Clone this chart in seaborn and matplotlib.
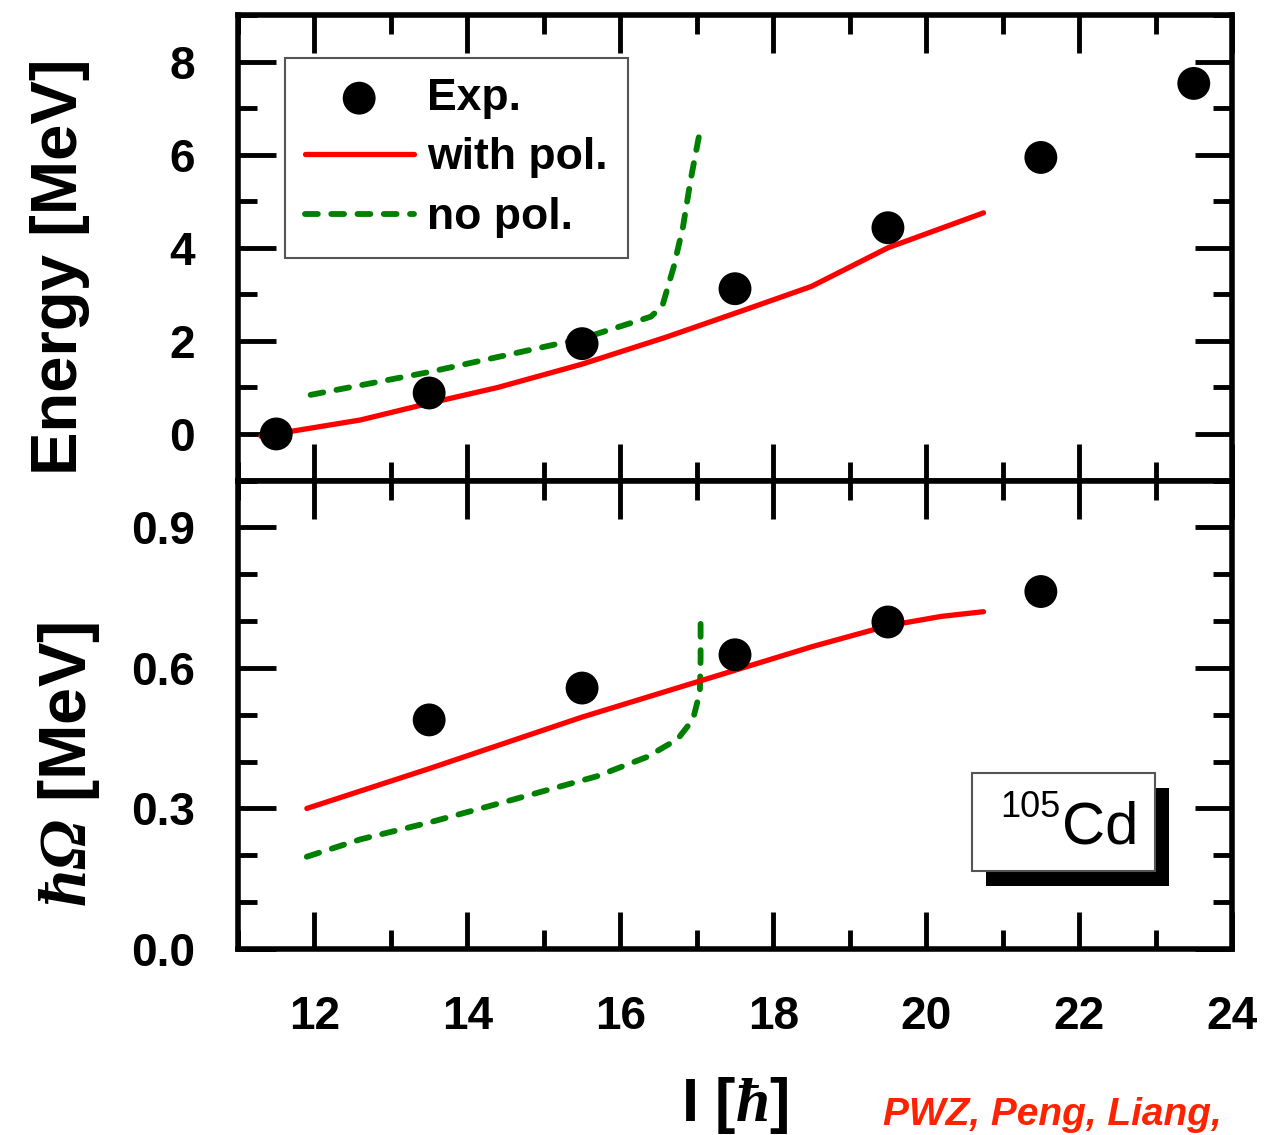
import matplotlib
matplotlib.use("Agg")
import matplotlib.pyplot as plt
import seaborn as sns
import pandas as pd
from matplotlib.ticker import MultipleLocator, FormatStrFormatter
from matplotlib.patches import Rectangle

# Experimental band: spin I, excitation energy, rotational frequency
spin_exp = [11.5, 13.5, 15.5, 17.5, 19.5, 21.5, 23.5]
energy_exp = [0.0, 0.88, 1.94, 3.12, 4.43, 5.94, 7.53]
spin_exp_omega = [13.5, 15.5, 17.5, 19.5, 21.5]
omega_exp = [0.489, 0.557, 0.628, 0.698, 0.763]

# Calculation with polarization
spin_pol_e = [11.3, 12.6, 13.5, 14.4, 15.5, 16.6, 17.6, 18.5, 19.5, 20.75]
energy_pol = [-0.05, 0.30, 0.66, 1.00, 1.50, 2.08, 2.65, 3.17, 4.00, 4.75]
spin_pol_w = [11.9, 13.5, 15.5, 17.6, 18.5, 19.5, 20.2, 20.75]
omega_pol = [0.300, 0.385, 0.495, 0.600, 0.645, 0.690, 0.710, 0.720]

# Calculation without polarization
spin_nopol_e = [11.95, 13.5, 15.5, 16.4, 16.55, 16.7, 16.82, 16.92, 17.05]
energy_nopol = [0.84, 1.33, 2.05, 2.52, 2.75, 3.60, 4.45, 5.46, 6.58]
spin_nopol_w = [11.9, 12.6, 13.5, 14.6, 15.7, 16.35, 16.75, 16.95, 17.04, 17.05, 17.05]
omega_nopol = [0.197, 0.234, 0.270, 0.319, 0.369, 0.410, 0.448, 0.490, 0.548, 0.620, 0.705]

sns.set_theme(style="ticks")
plt.rcParams["font.family"] = ["Liberation Sans", "DejaVu Sans"]
plt.rcParams["font.weight"] = "bold"
plt.rcParams["mathtext.fontset"] = "custom"
plt.rcParams["mathtext.rm"] = "Liberation Serif:italic"
plt.rcParams["mathtext.it"] = "Liberation Serif:italic"
plt.rcParams["axes.linewidth"] = 4
for key in ("text.color", "axes.labelcolor", "xtick.color", "ytick.color",
            "axes.edgecolor"):
    plt.rcParams[key] = "black"

RED = "#ff0000"
GREEN = "#008000"
TICK_FS = 33

fig = plt.figure(figsize=(12.71, 11.35), dpi=100)
ax1 = fig.add_axes([0.18726, 0.57665, 0.78206, 0.41013])
ax2 = fig.add_axes([0.18726, 0.16388, 0.78206, 0.41277])

df_exp = pd.DataFrame({"I": spin_exp, "E": energy_exp})
df_exp_w = pd.DataFrame({"I": spin_exp_omega, "w": omega_exp})
df_pol_e = pd.DataFrame({"I": spin_pol_e, "E": energy_pol})
df_pol_w = pd.DataFrame({"I": spin_pol_w, "w": omega_pol})
df_nopol_e = pd.DataFrame({"I": spin_nopol_e, "E": energy_nopol})
df_nopol_w = pd.DataFrame({"I": spin_nopol_w, "w": omega_nopol})

def draw_curves(ax, d_pol, d_nopol, ycol, with_label):
    sns.lineplot(data=d_nopol, x="I", y=ycol, ax=ax, estimator=None, sort=False,
                 color=GREEN, linewidth=4.2, label="no pol." if with_label else None,
                 legend=False, zorder=2)
    ln = ax.lines[-1]
    ln.set_linestyle((0, (2.2, 2.3)))
    ln.set_dash_capstyle("round")
    sns.lineplot(data=d_pol, x="I", y=ycol, ax=ax, estimator=None, sort=False,
                 color=RED, linewidth=3.8, label="with pol." if with_label else None,
                 legend=False, zorder=3)

# Upper panel: energies
draw_curves(ax1, df_pol_e, df_nopol_e, "E", True)
sns.scatterplot(data=df_exp, x="I", y="E", ax=ax1, color="black", s=560,
                edgecolor="none", label="Exp.", legend=False, zorder=4)

# Lower panel: rotational frequency
draw_curves(ax2, df_pol_w, df_nopol_w, "w", False)
sns.scatterplot(data=df_exp_w, x="I", y="w", ax=ax2, color="black", s=560,
                edgecolor="none", legend=False, zorder=4)

for ax in (ax1, ax2):
    ax.set_xlim(11, 24)
    ax.xaxis.set_major_locator(MultipleLocator(2))
    ax.xaxis.set_minor_locator(MultipleLocator(1))
    ax.tick_params(which="both", direction="in", top=True, right=True,
                   width=3.5, color="black", labelsize=TICK_FS, labelcolor="black")
    ax.tick_params(which="major", length=27)
    ax.tick_params(which="minor", length=14)
    ax.tick_params(axis="y", pad=31)
    ax.tick_params(axis="x", pad=33)
    for sp in ax.spines.values():
        sp.set_color("black")
        sp.set_linewidth(4)

ax1.set_ylim(-1, 9)
ax1.yaxis.set_major_locator(MultipleLocator(2))
ax1.yaxis.set_minor_locator(MultipleLocator(1))
ax1.tick_params(labelbottom=False)
ax1.set_xlabel("")
ax1.set_ylabel("Energy [MeV]", fontsize=47, fontweight="bold")
ax1.yaxis.set_label_coords(-0.149, 0.459)

ax2.set_ylim(0, 1.0)
ax2.yaxis.set_major_locator(MultipleLocator(0.3))
ax2.yaxis.set_minor_locator(MultipleLocator(0.1))
ax2.yaxis.set_major_formatter(FormatStrFormatter("%.1f"))
ax2.set_ylabel(r"$\hbar\Omega$ [MeV]", fontsize=48, fontweight="bold")
ax2.yaxis.set_label_coords(-0.137, 0.394)
ax2.set_xlabel(r"I [$\hbar$]", fontsize=44, fontweight="bold", va="top")
ax2.xaxis.set_label_coords(0.5, -0.268)

for ax in (ax1, ax2):
    for lab in ax.get_xticklabels() + ax.get_yticklabels():
        lab.set_fontweight("bold")

# Legend in the upper panel
handles, labels = ax1.get_legend_handles_labels()
order = ["Exp.", "with pol.", "no pol."]
hmap = dict(zip(labels, handles))
leg = ax1.legend([hmap[k] for k in order], order, loc="upper left",
                 bbox_to_anchor=(0.047, 0.908), borderaxespad=0,
                 prop={"size": 32, "weight": "bold"}, frameon=True,
                 fancybox=False, edgecolor="#555555", framealpha=1,
                 handlelength=2.45, handletextpad=0.3, labelspacing=0.42,
                 borderpad=0.45, markerscale=1.0)
leg.get_frame().set_linewidth(1.5)
for t in leg.get_texts():
    t.set_color("black")

# Nucleus label with a drop-shadow box
ax2.add_patch(Rectangle((0.7525, 0.1343), 0.1841, 0.209, transform=ax2.transAxes,
                        facecolor="black", edgecolor="none", zorder=5))
ax2.add_patch(Rectangle((0.7384, 0.1663), 0.1841, 0.209, transform=ax2.transAxes,
                        facecolor="white", edgecolor="#555555", linewidth=1.5, zorder=6))
ax2.text(0.829, 0.226, "Cd", transform=ax2.transAxes, fontsize=43, fontweight="normal",
         ha="left", va="baseline", zorder=7)
ax2.text(0.827, 0.281, "105", transform=ax2.transAxes, fontsize=26, fontweight="normal",
         ha="right", va="baseline", zorder=7)

fig.text(0.6947, 0.0088, "PWZ, Peng, Liang,", color="#ff2200", fontsize=28,
         fontweight="bold", fontstyle="italic", ha="left", va="baseline")

fig.savefig("out.png", dpi=100, facecolor="white")
